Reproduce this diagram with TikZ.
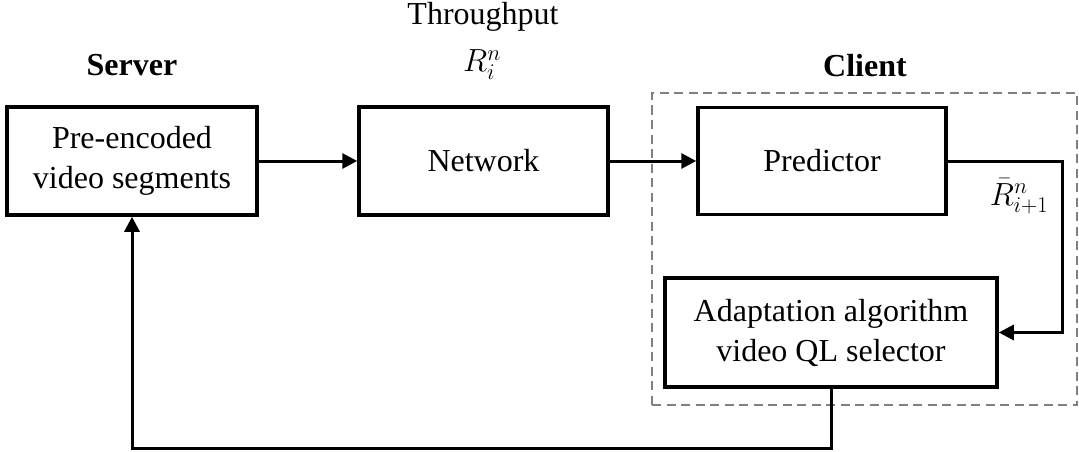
\documentclass[tikz,border=0pt]{standalone}
\usepackage{fix-cm}
\usepackage{fontspec}
\setmainfont{Liberation Serif}
\usetikzlibrary{arrows.meta}

\begin{document}
\begin{tikzpicture}[x=1pt,y=-1pt,
  font=\fontsize{32}{40}\selectfont,
  block/.style={draw,line width=3.5pt,align=center,inner sep=0pt},
  link/.style={line width=3pt,-{Triangle[length=15pt,width=15pt]}},
  lbl/.style={anchor=base,inner sep=0pt},
  group/.style={draw=gray,line width=2.5pt,dash pattern=on 9pt off 5.5pt,inner sep=0pt}]
\useasboundingbox (0,0) rectangle (1079,452);

% client group frame
\node[group,minimum width=425pt,minimum height=312pt] (clientbox) at (864.5,249) {};

% blocks
\node[block,minimum width=250pt,minimum height=108pt] (srv) at (132,161) {Pre-encoded\\video segments};
\node[block,minimum width=249pt,minimum height=108pt] (net) at (483.5,161) {Network};
\node[block,minimum width=248pt,minimum height=107pt] (pred) at (822,161) {Predictor};
\node[block,minimum width=332pt,minimum height=109pt] (adapt) at (831,332.5) {Adaptation algorithm\\video QL selector};

% labels
\node[lbl] (server) at (132,75) {\bfseries Server};
\node[lbl] (client) at (865,77) {\bfseries Client};
\node[lbl] (thr) at (483,25) {Throughput};
\node[lbl] (rin) at (482,72) {$R_i^n$};
\node[lbl] (rbar) at (1019,205) {$\bar{R}^n_{i+1}$};

% connectors
\draw[link] (srv.east) -- (net.west);
\draw[link] (net.east) -- (pred.west);
\draw[link] (pred.east) -- ++(115,0) |- (adapt.east);
\draw[link] (adapt.south) -- ++(0,60) -| (srv.south);
\end{tikzpicture}
\end{document}
